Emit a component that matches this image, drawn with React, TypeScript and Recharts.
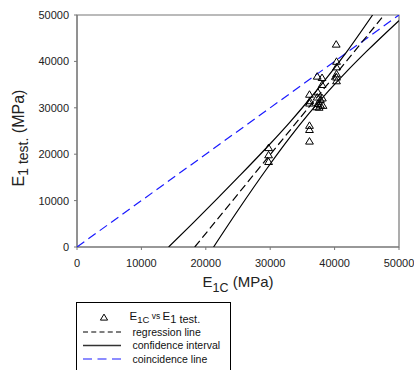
import React from 'react';
import { ScatterChart, Scatter, XAxis, YAxis, ReferenceArea } from 'recharts';

// E1c (MPa) vs E1 test (MPa) measured specimens
const testPoints = [
  { x: 29750, y: 21400 },
  { x: 29750, y: 19850 },
  { x: 29750, y: 18400 },
  { x: 36100, y: 32900 },
  { x: 36150, y: 31500 },
  { x: 36100, y: 31000 },
  { x: 36100, y: 26200 },
  { x: 36100, y: 25300 },
  { x: 36100, y: 22800 },
  { x: 37300, y: 36800 },
  { x: 38050, y: 36500 },
  { x: 38050, y: 35000 },
  { x: 37400, y: 33400 },
  { x: 37300, y: 32300 },
  { x: 37800, y: 31800 },
  { x: 38100, y: 32100 },
  { x: 37400, y: 30900 },
  { x: 37800, y: 30600 },
  { x: 38200, y: 30500 },
  { x: 37200, y: 30200 },
  { x: 37600, y: 30100 },
  { x: 40250, y: 43700 },
  { x: 40300, y: 40000 },
  { x: 40300, y: 38800 },
  { x: 40300, y: 37300 },
  { x: 40300, y: 36600 },
  { x: 40300, y: 35800 },
];

const regressionLine = [
  { x: 18280, y: 0 },
  { x: 47690, y: 50000 },
];

const upperConfidence = [
  { x: 14230, y: 0 },
  { x: 18000, y: 5160 },
  { x: 21740, y: 10360 },
  { x: 25000, y: 14990 },
  { x: 29750, y: 21880 },
  { x: 33000, y: 26820 },
  { x: 36000, y: 31680 },
  { x: 38500, y: 35950 },
  { x: 41900, y: 42100 },
  { x: 45900, y: 50000 },
];

const lowerConfidence = [
  { x: 21210, y: 0 },
  { x: 25000, y: 7920 },
  { x: 29500, y: 16920 },
  { x: 33000, y: 23500 },
  { x: 36000, y: 28720 },
  { x: 39000, y: 33520 },
  { x: 42000, y: 38000 },
  { x: 45000, y: 42200 },
  { x: 50000, y: 48800 },
];

const coincidenceLine = [
  { x: 0, y: 0 },
  { x: 50000, y: 50000 },
];

const axisTicks = [0, 10000, 20000, 30000, 40000, 50000];

const FONT = 'Arial, "Liberation Sans", Helvetica, sans-serif';

const Triangle = (props: any) => {
  const { cx, cy } = props;
  if (cx == null || cy == null) return <g />;
  return (
    <path
      d={`M${cx},${cy - 3.6} L${cx + 3.9},${cy + 2.9} L${cx - 3.9},${cy + 2.9} Z`}
      fill="none"
      stroke="#000"
      strokeWidth={1}
    />
  );
};

const NoShape = () => <g />;

const XLabel = (props: any) => {
  const vb = props.viewBox || { x: 77, y: 247, width: 322, height: 55 };
  return (
    <text
      x={vb.x + vb.width / 2}
      y={vb.y + 40}
      textAnchor="middle"
      fontFamily={FONT}
      fontSize={15}
      fill="#222"
    >
      <tspan>E</tspan>
      <tspan fontSize={12.5} dy={5}>1C</tspan>
      <tspan dy={-5}> (MPa)</tspan>
    </text>
  );
};

const YLabel = (props: any) => {
  const vb = props.viewBox || { x: 0, y: 15, width: 77, height: 232 };
  const x = vb.x + 24;
  const y = vb.y + vb.height / 2 + 7;
  return (
    <text
      x={x}
      y={y}
      transform={`rotate(-90, ${x}, ${y})`}
      textAnchor="middle"
      fontFamily={FONT}
      fontSize={16}
      fill="#222"
    >
      <tspan>E</tspan>
      <tspan fontSize={14} dy={4}>1 test.</tspan>
      <tspan dy={-4}> (MPa)</tspan>
    </text>
  );
};

const Legend = () => {
  const lx1 = 83;
  const lx2 = 121;
  const tx = 132.5;
  const rows = [317.5, 332, 345.5, 359];
  return (
    <svg
      width={414}
      height={370}
      style={{ position: 'absolute', left: 0, top: 0, pointerEvents: 'none' }}
    >
      <rect x={76.5} y={302.5} width={154} height={90} fill="#fff" stroke="#000" strokeWidth={1} />
      <path
        d={`M104,${rows[0] - 3.4} L107.6,${rows[0] + 2.6} L100.4,${rows[0] + 2.6} Z`}
        fill="none"
        stroke="#000"
        strokeWidth={1}
      />
      <text x={tx - 3} y={rows[0] + 2.5} fontFamily={FONT} fontSize={11.5} fill="#111">
        <tspan>E</tspan>
        <tspan fontSize={9.5} dy={2.5}>1C</tspan>
        <tspan fontSize={8.5} dy={-4}> vs </tspan>
        <tspan fontSize={11.5} dy={1.5}>E</tspan>
        <tspan fontSize={11} dy={2.5}>1 test.</tspan>
      </text>
      <line x1={lx1} x2={lx2} y1={rows[1]} y2={rows[1]} stroke="#000" strokeWidth={1.2} strokeDasharray="5 3.25" />
      <text x={tx} y={rows[1] + 3.7} fontFamily={FONT} fontSize={10.5} fill="#111">regression line</text>
      <line x1={lx1} x2={lx2} y1={rows[2]} y2={rows[2]} stroke="#333" strokeWidth={1.4} />
      <text x={tx} y={rows[2] + 3.7} fontFamily={FONT} fontSize={10.5} fill="#111">confidence interval</text>
      <line x1={lx1} x2={lx2} y1={rows[3]} y2={rows[3]} stroke="#1a1aff" strokeWidth={1.2} strokeDasharray="9 5.5" />
      <text x={tx} y={rows[3] + 3.7} fontFamily={FONT} fontSize={10.5} fill="#111">coincidence line</text>
    </svg>
  );
};

export default function App() {
  const tickStyle = { fontSize: 11, fill: '#222', fontFamily: FONT };
  return (
    <div style={{ position: 'absolute', left: 0, top: 0, width: 414, height: 370, background: '#fff' }}>
      <ScatterChart width={414} height={370} margin={{ top: 15, right: 15, left: 0, bottom: 68 }}>
        <XAxis
          type="number"
          dataKey="x"
          domain={[0, 50000]}
          ticks={axisTicks}
          allowDataOverflow
          height={55}
          tickSize={3}
          tickMargin={9}
          tick={tickStyle}
          stroke="#777"
          label={{ content: XLabel }}
        />
        <YAxis
          type="number"
          dataKey="y"
          domain={[0, 50000]}
          ticks={axisTicks}
          allowDataOverflow
          width={77}
          tickSize={3}
          tickMargin={5}
          tick={tickStyle}
          stroke="#777"
          label={{ content: YLabel }}
        />
        <ReferenceArea x1={0} x2={50000} y1={0} y2={50000} fill="none" stroke="#777" strokeWidth={1.2} ifOverflow="visible" />
        <Scatter
          data={coincidenceLine}
          line={{ stroke: '#1a1aff', strokeWidth: 1.2, strokeDasharray: '9 5' }}
          shape={NoShape}
          isAnimationActive={false}
        />
        <Scatter
          data={upperConfidence}
          line={{ stroke: '#000', strokeWidth: 1.2 }}
          lineJointType="monotoneX"
          shape={NoShape}
          isAnimationActive={false}
        />
        <Scatter
          data={lowerConfidence}
          line={{ stroke: '#000', strokeWidth: 1.2 }}
          lineJointType="monotoneX"
          shape={NoShape}
          isAnimationActive={false}
        />
        <Scatter
          data={regressionLine}
          line={{ stroke: '#000', strokeWidth: 1.2, strokeDasharray: '8 4' }}
          shape={NoShape}
          isAnimationActive={false}
        />
        <Scatter data={testPoints} shape={Triangle} isAnimationActive={false} />
      </ScatterChart>
      <Legend />
    </div>
  );
}
